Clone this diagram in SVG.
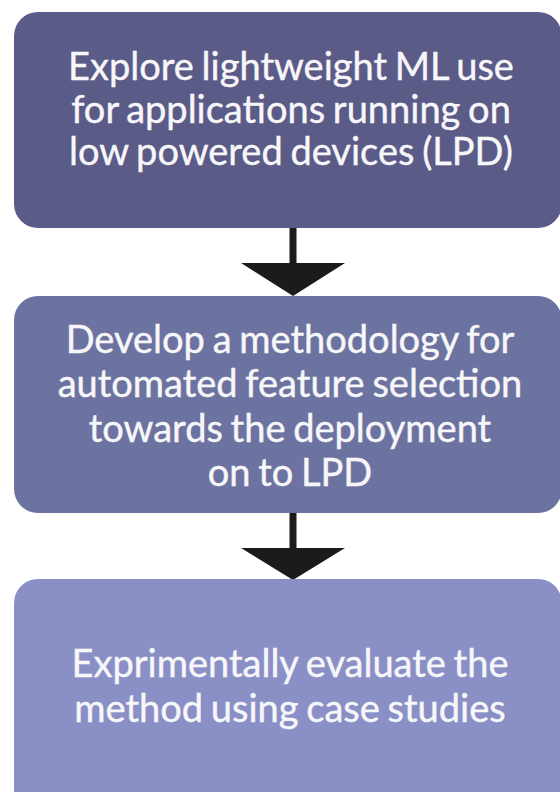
<svg xmlns="http://www.w3.org/2000/svg" width="560" height="792" viewBox="0 0 560 792">
<style>
text{font-family:Lato,"Open Sans","Liberation Sans",sans-serif;font-size:38px;fill:#f7f7fa;stroke:#f7f7fa;stroke-width:0.4;text-anchor:middle;word-spacing:-2px}
.box{stroke:none}
</style>
<rect width="560" height="792" fill="#ffffff"/>
<g id="connectors" fill="#1c1b1b">
  <rect x="289.5" y="227" width="7" height="37"/>
  <polygon points="241,263 345,263 293,296"/>
  <rect x="289.5" y="512" width="7" height="37"/>
  <polygon points="241,548 345,548 293,580"/>
</g>
<g id="node1">
  <rect class="box" x="14" y="12" width="548" height="216" rx="24" fill="#5b5b87"/>
  <text x="291" y="80">Explore lightweight ML use</text>
  <text x="291" y="123">for applications running on</text>
  <text x="291" y="165">low powered devices (LPD)</text>
</g>
<g id="node2">
  <rect class="box" x="14" y="296" width="548" height="217" rx="24" fill="#6d73a0"/>
  <text x="290" y="353">Develop a methodology for</text>
  <text x="290" y="397">automated feature selection</text>
  <text x="290" y="442">towards the deployment</text>
  <text x="290" y="486">on to LPD</text>
</g>
<g id="node3">
  <rect class="box" x="14" y="579" width="548" height="240" rx="24" fill="#8a90c6"/>
  <text x="290" y="677">Exprimentally evaluate the</text>
  <text x="290" y="722">method using case studies</text>
</g>
</svg>
